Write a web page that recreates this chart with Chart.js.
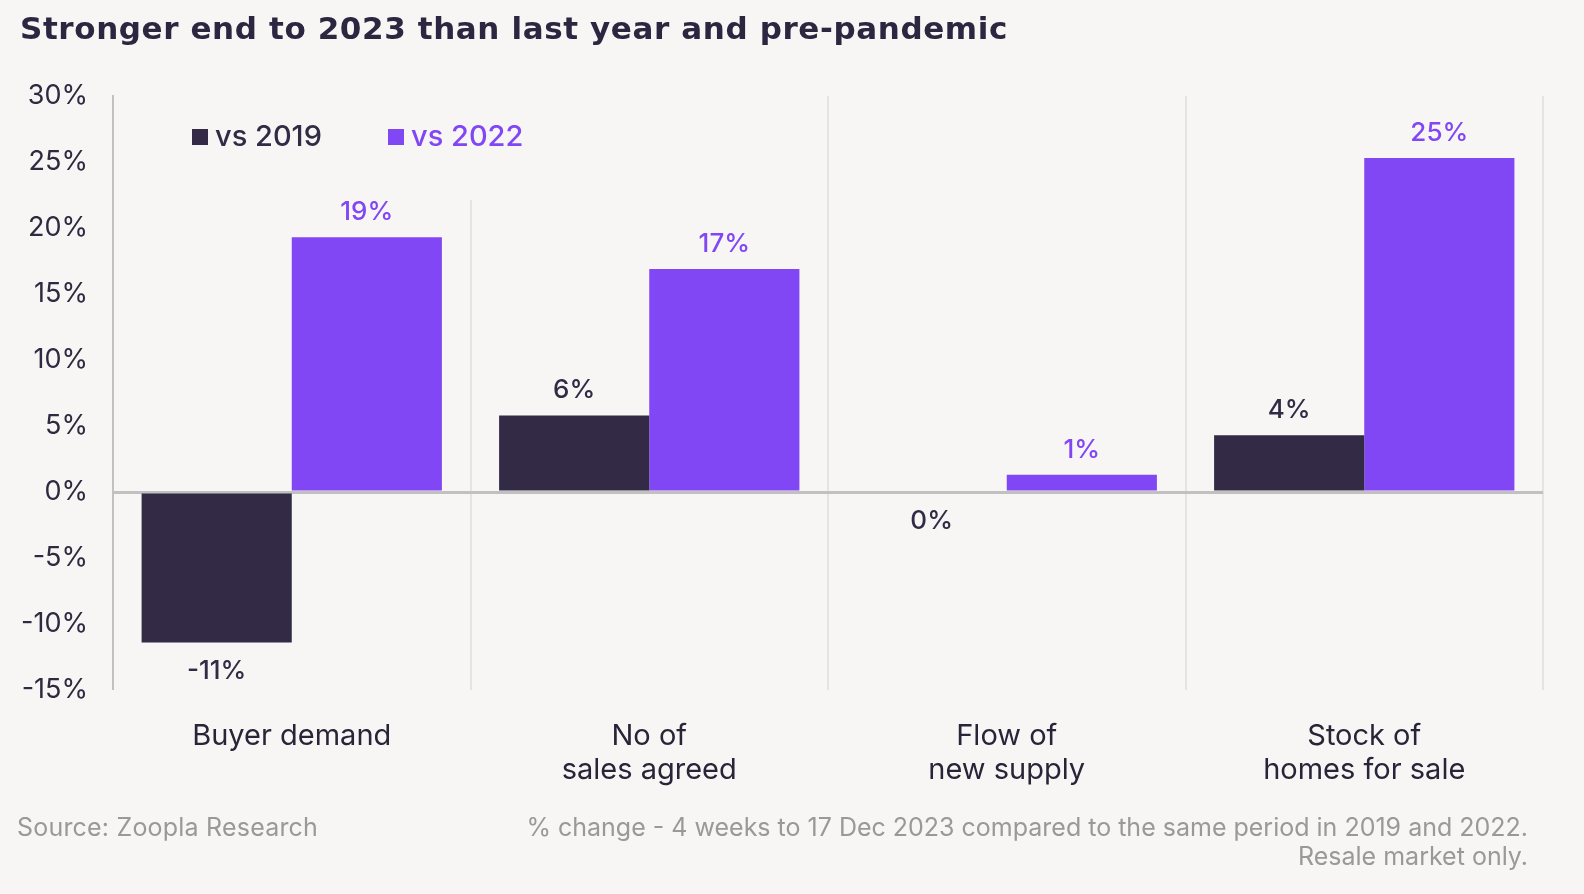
<!DOCTYPE html>
<html>
<head>
<meta charset="utf-8">
<script src="https://cdn.jsdelivr.net/npm/chart.js@4"></script>
<style>
  body { margin: 0; background: #f7f6f4; font-family: "Inter", sans-serif; }
  #wrap { position: relative; width: 1584px; height: 894px; overflow: hidden; }
  #title { position: absolute; left: 20px; top: 10px; font-family: "DejaVu Sans", sans-serif; font-size: 31px; font-weight: 700; color: #2d2640; letter-spacing: 0.6px; }
  .foot { position: absolute; font-size: 25px; color: #9a9898; line-height: 29px; }
  #src { left: 17px; top: 813px; letter-spacing: 0.2px; }
  #note { right: 56px; top: 813px; text-align: right; letter-spacing: 0px; }
  canvas { position: absolute; left: 0; top: 0; }
</style>
</head>
<body>
<div id="wrap">
  <canvas id="chart" width="1584" height="894"></canvas>
  <div id="title">Stronger end to 2023 than last year and pre-pandemic</div>
  <div class="foot" id="src">Source: Zoopla Research</div>
  <div class="foot" id="note">% change - 4 weeks to 17 Dec 2023 compared to the same period in 2019 and 2022.<br>Resale market only.</div>
</div>
<script>
// data
let categories = [["Buyer demand"], ["No of", "sales agreed"], ["Flow of", "new supply"], ["Stock of", "homes for sale"]];
let vs2019 = [-11.4, 5.8, 0, 4.3];
let vs2022 = [19.3, 16.9, 1.3, 25.3];
let label2019 = ["-11%", "6%", "0%", "4%"];
let label2022 = ["19%", "17%", "1%", "25%"];
let yTicks = [30, 25, 20, 15, 10, 5, 0, -5, -10, -15];

let darkCol = "#332a45";
let purpleCol = "#8247f5";
let fontFam = "Inter, sans-serif";

// value labels above / below bars
let valueLabels = {
    id: "valueLabels",
    afterDatasetsDraw: function(chart) {
        let ctx = chart.ctx;
        ctx.save();
        ctx.font = "500 26px " + fontFam;
        ctx.textAlign = "center";
        ctx.textBaseline = "middle";
        chart.data.datasets.forEach(function(ds, i) {
            let meta = chart.getDatasetMeta(i);
            meta.data.forEach(function(bar, j) {
                let v = ds.data[j];
                ctx.fillStyle = ds.backgroundColor;
                let y = v > 0 ? bar.y - 25 : bar.y + 29;
                ctx.fillText(ds.valueText[j], bar.x, y);
            });
        });
        ctx.restore();
    }
};

// legend sitting inside the plot, with background box
let innerLegend = {
    id: "innerLegend",
    afterDraw: function(chart) {
        let ctx = chart.ctx;
        ctx.save();
        ctx.fillStyle = "#f7f6f4";
        ctx.fillRect(116, 96, 420, 104);
        ctx.font = "500 29px " + fontFam;
        ctx.textBaseline = "middle";
        let xs = [192, 388];
        chart.data.datasets.forEach(function(ds, i) {
            ctx.fillStyle = ds.backgroundColor;
            ctx.fillRect(xs[i], 129, 16, 16);
            ctx.fillText(ds.label, xs[i] + 23, 137);
        });
        ctx.restore();
    }
};

let ctx = document.getElementById("chart").getContext("2d");
let chart = new Chart(ctx, {
    type: "bar",
    data: {
        labels: categories,
        datasets: [
            { label: "vs 2019", data: vs2019, valueText: label2019, backgroundColor: darkCol },
            { label: "vs 2022", data: vs2022, valueText: label2022, backgroundColor: purpleCol }
        ]
    },
    options: {
        responsive: false,
        animation: false,
        devicePixelRatio: 1,
        layout: { padding: { left: 0, right: 41, top: 96, bottom: 0 } },
        categoryPercentage: 0.84,
        barPercentage: 1,
        plugins: { legend: { display: false }, tooltip: { enabled: false } },
        scales: {
            x: {
                grid: { color: "#e6e4e2", lineWidth: 2, drawTicks: false, offset: true },
                border: { display: false },
                ticks: { color: "#2b2438", font: { family: fontFam, size: 29, lineHeight: 1.17 }, padding: 29, maxRotation: 0 },
                afterFit: function(scale) { scale.height = 204; }
            },
            y: {
                min: -15,
                max: 30,
                afterBuildTicks: function(scale) { scale.ticks = yTicks.map(function(v) { return { value: v }; }); },
                grid: {
                    drawTicks: false,
                    color: function(c) { return c.tick && c.tick.value === 0 ? "#c2c0c0" : "rgba(0,0,0,0)"; },
                    lineWidth: function(c) { return c.tick && c.tick.value === 0 ? 3 : 0; }
                },
                border: { display: true, color: "#c2c0c0", width: 2 },
                ticks: {
                    color: "#2e2a3f",
                    font: { family: fontFam, size: 27 },
                    padding: 25,
                    callback: function(v) { return v + "%"; }
                },
                afterFit: function(scale) { scale.width = 113; }
            }
        }
    },
    plugins: [valueLabels, innerLegend]
});
</script>
</body>
</html>
